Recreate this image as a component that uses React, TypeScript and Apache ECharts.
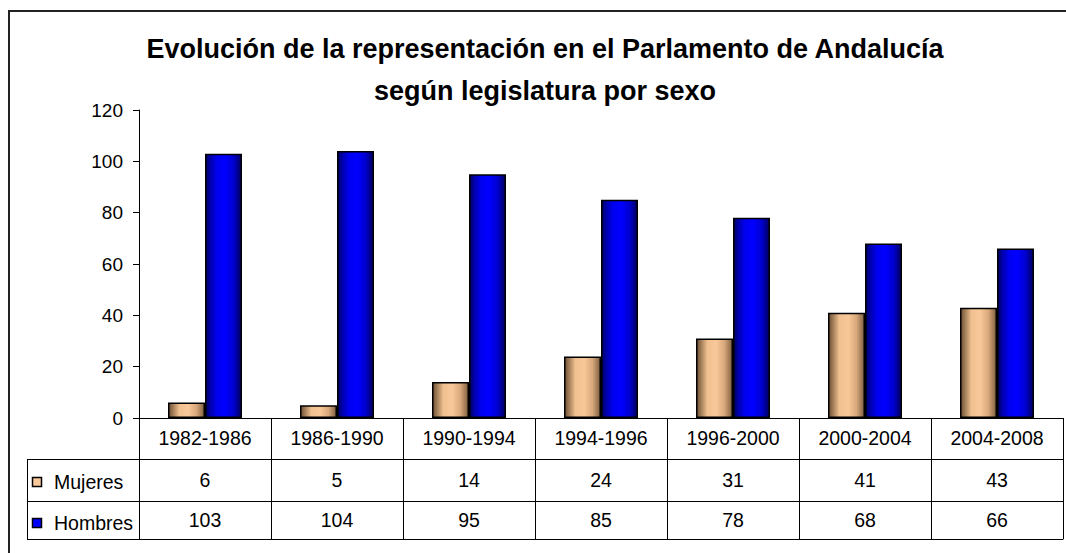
import React, { useEffect, useRef } from "react";
import * as echarts from "echarts";

const categories = ["1982-1986", "1986-1990", "1990-1994", "1994-1996", "1996-2000", "2000-2004", "2004-2008"];
const mujeres = [6, 5, 14, 24, 31, 41, 43];
const hombres = [103, 104, 95, 85, 78, 68, 66];
const seriesNames = ["Mujeres", "Hombres"];
const legendColors = ["#f8c898", "#0000ff"];
const yTicks = { min: 0, max: 120, interval: 20 };

const FONT = "'Liberation Sans', Arial, sans-serif";

const tanGradient = new echarts.graphic.LinearGradient(0, 0, 1, 0, [
  { offset: 0, color: "#6e5036" },
  { offset: 0.12, color: "#a07c58" },
  { offset: 0.3, color: "#f0c090" },
  { offset: 0.55, color: "#f8c898" },
  { offset: 0.78, color: "#d8a87c" },
  { offset: 1, color: "#806040" },
]);
const blueGradient = new echarts.graphic.LinearGradient(0, 0, 1, 0, [
  { offset: 0, color: "#00005a" },
  { offset: 0.12, color: "#0000a8" },
  { offset: 0.32, color: "#0000f0" },
  { offset: 0.55, color: "#0000ff" },
  { offset: 0.78, color: "#0000d0" },
  { offset: 1, color: "#000060" },
]);

export default function App() {
  const ref = useRef<HTMLDivElement>(null);
  useEffect(() => {
    if (!ref.current) return;
    const chart = echarts.init(ref.current, null, { renderer: "svg" });
    const tableAxis = (offset: number, values: number[] | null, margin: number) => ({
      type: "category",
      data: categories,
      position: "bottom",
      offset,
      axisLine: { show: true, lineStyle: { color: "#000", width: 1 } },
      axisTick: { show: false },
      axisLabel: {
        show: values !== null,
        margin,
        fontSize: 19.5,
        fontFamily: FONT,
        color: "#000",
        interval: 0,
        formatter: (_v: string, i: number) => (values ? String(values[i]) : ""),
      },
      splitLine: { show: false },
    });
    const legendRows = [482, 523];
    const legendGraphics: any[] = [];
    seriesNames.forEach((name, i) => {
      legendGraphics.push({
        type: "rect",
        shape: { x: 32.5, y: legendRows[i] - 4.5, width: 9, height: 9 },
        style: { fill: legendColors[i], stroke: "#000", lineWidth: 1.5 },
      });
      legendGraphics.push({
        type: "text",
        x: 54,
        y: legendRows[i],
        style: {
          text: name,
          font: `19.5px ${FONT}`,
          fill: "#000",
          verticalAlign: "middle",
          align: "left",
        },
      });
    });
    chart.setOption({
      animation: false,
      backgroundColor: "#fff",
      title: {
        text: "Evolución de la representación en el Parlamento de Andalucía\nsegún legislatura por sexo",
        left: 540,
        textAlign: "center",
        top: 23,
        textStyle: {
          fontFamily: FONT,
          fontSize: 27,
          fontWeight: "bold",
          color: "#000",
          lineHeight: 42,
        },
      },
      grid: { left: 139, right: 3, top: 110, bottom: 135, containLabel: false },
      xAxis: [
        {
          type: "category",
          data: categories,
          position: "bottom",
          axisLine: { show: true, lineStyle: { color: "#000", width: 1 } },
          axisTick: { show: true, length: 121, interval: 0, lineStyle: { color: "#000", width: 1 } },
          axisLabel: { margin: 10, fontSize: 19.5, fontFamily: FONT, color: "#000", interval: 0 },
          splitLine: { show: false },
        },
        tableAxis(41, mujeres, 11),
        tableAxis(83, hombres, 9),
        tableAxis(121, null, 8),
      ],
      yAxis: {
        type: "value",
        min: yTicks.min,
        max: yTicks.max,
        interval: yTicks.interval,
        axisLine: { show: true, lineStyle: { color: "#000", width: 1 } },
        axisTick: { show: true, length: 6, lineStyle: { color: "#000" } },
        axisLabel: { margin: 16, fontSize: 19, fontFamily: FONT, color: "#000" },
        splitLine: { show: false },
      },
      series: [
        {
          name: seriesNames[0],
          type: "bar",
          data: mujeres,
          barWidth: 37,
          barGap: "0%",
          itemStyle: { color: tanGradient, borderColor: "#000", borderWidth: 1.5 },
        },
        {
          name: seriesNames[1],
          type: "bar",
          data: hombres,
          barWidth: 37,
          barGap: "0%",
          itemStyle: { color: blueGradient, borderColor: "#000", borderWidth: 1.5 },
        },
      ],
      graphic: [
        { type: "line", shape: { x1: 9, y1: 11, x2: 9, y2: 553 }, style: { stroke: "#222", lineWidth: 2 } },
        { type: "line", shape: { x1: 8, y1: 11, x2: 1066, y2: 11 }, style: { stroke: "#222", lineWidth: 2 } },
        { type: "line", shape: { x1: 27, y1: 459.5, x2: 139, y2: 459.5 }, style: { stroke: "#000", lineWidth: 1 } },
        { type: "line", shape: { x1: 27, y1: 501.5, x2: 139, y2: 501.5 }, style: { stroke: "#000", lineWidth: 1 } },
        { type: "line", shape: { x1: 27, y1: 539.5, x2: 139, y2: 539.5 }, style: { stroke: "#000", lineWidth: 1 } },
        { type: "line", shape: { x1: 27.5, y1: 459, x2: 27.5, y2: 540 }, style: { stroke: "#000", lineWidth: 1 } },
        ...legendGraphics,
      ],
    });
    return () => chart.dispose();
  }, []);
  return (
    <div
      ref={ref}
      style={{ position: "fixed", left: 0, top: 0, width: 1066, height: 553 }}
    />
  );
}
